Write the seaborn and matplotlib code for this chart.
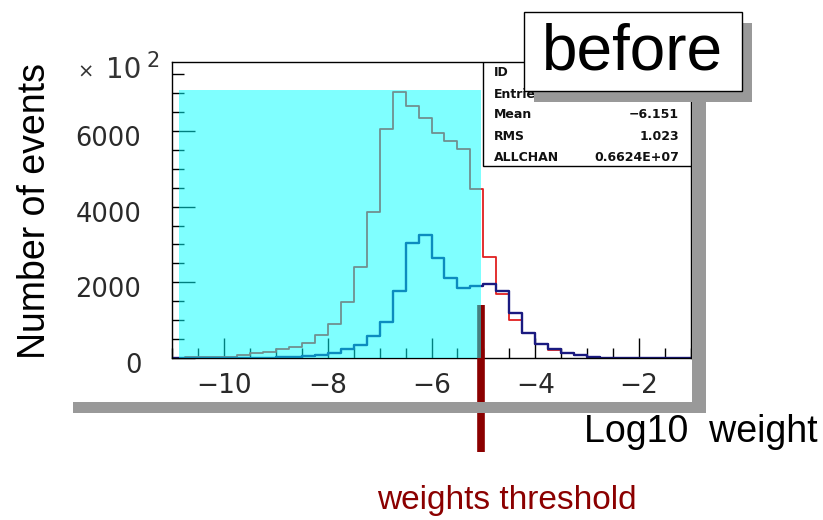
import numpy as np
import pandas as pd
import matplotlib
matplotlib.use("Agg")
import matplotlib.pyplot as plt
import matplotlib.transforms as mtransforms
from matplotlib.patches import Rectangle
from matplotlib.ticker import FixedLocator, MultipleLocator
import seaborn as sns

# Histogram binning of log10(weight): 40 bins of 0.25 from -11 to -1
bin_lo = -11.0
bin_hi = -1.0
bin_width = 0.25

# Events per bin, in units of 10^2
all_events = [0, 20, 20, 20, 20, 90, 140, 170, 230, 300,
              405, 600, 910, 1470, 2410, 3860, 6040, 7020, 6660, 6330,
              5950, 5740, 5530, 4460, 2680, 1690, 1000, 650, 380, 220,
              125, 70, 27, 10, 5, 0, 0, 0, 0, 0]
sel_events = [0, 10, 10, 10, 10, 10, 10, 10, 30, 35,
              45, 85, 133, 239, 336, 592, 944, 1773, 3043, 3246,
              2629, 2117, 1862, 1906, 1967, 1773, 1200, 650, 370, 225,
              130, 70, 27, 10, 5, 0, 0, 0, 0, 0]

threshold = -5.05
x_ticks = [-10, -8, -6, -4, -2]
x_tick_labels = ["\u221210", "\u22128", "\u22126", "\u22124", "\u22122"]
y_ticks = [0, 2000, 4000, 6000]
y_tick_labels = ["0", "2000", "4000", "6000"]
stats_labels = ["ID", "Entries", "Mean", "RMS", "ALLCHAN"]
stats_values = ["", "", "\u22126.151", "1.023", "0.6624E+07"]

sns.set_style("white")
plt.rcParams["font.family"] = ["DejaVu Sans"]

W, H = 823, 520
fig = plt.figure(figsize=(W / 100, H / 100), dpi=100)


def fx(px):
    return px / W


def fy(py):
    return 1 - py / H


ax = fig.add_axes([fx(172), fy(358), fx(691) - fx(172), fy(62) - fy(358)])

centers = bin_lo + (np.arange(len(all_events)) + 0.5) * bin_width
df = pd.DataFrame({"logw": centers, "all": all_events, "sel": sel_events})

sns.histplot(data=df, x="logw", weights="all", binwidth=bin_width,
             binrange=(bin_lo, bin_hi), element="step", fill=False,
             color="#e02020", linewidth=1.3, ax=ax, zorder=2)
sns.histplot(data=df, x="logw", weights="sel", binwidth=bin_width,
             binrange=(bin_lo, bin_hi), element="step", fill=False,
             color="#1a1a80", linewidth=1.7, ax=ax, zorder=2.2)

ax.set_xlim(bin_lo, bin_hi)
ax.set_ylim(0, 7820)
ax.set_xlabel("")
ax.set_ylabel("")

# threshold marker, running below the frame
ax.plot([threshold, threshold], [1394, -2495], color="#8b0000", lw=5.5,
        solid_capstyle="butt", clip_on=False, zorder=3)

# cyan band over the low-weight region
ax.add_patch(Rectangle((-10.87, 0), threshold + 10.87, 7080,
                       facecolor=(0, 1, 1), alpha=0.5, lw=0, zorder=4))

# frame and ticks
for s in ax.spines.values():
    s.set_visible(True)
    s.set_color("black")
    s.set_linewidth(1.0)

ax.xaxis.set_major_locator(FixedLocator(x_ticks))
ax.xaxis.set_minor_locator(MultipleLocator(0.5))
ax.yaxis.set_major_locator(FixedLocator(y_ticks))
ax.yaxis.set_minor_locator(MultipleLocator(500))
ax.set_xticklabels(x_tick_labels)
ax.set_yticklabels(y_tick_labels)
ax.tick_params(axis="x", which="major", direction="in", length=14.5, width=1,
               color="black", bottom=True, top=False, pad=11, labelsize=19,
               labelcolor="#2a2a2a")
ax.tick_params(axis="x", which="minor", direction="in", length=7, width=1,
               color="black", bottom=True, top=False)
ax.tick_params(axis="y", which="major", direction="in", length=16.5, width=1,
               color="black", left=True, right=False, pad=22, labelsize=18.5,
               labelcolor="#2a2a2a")
ax.tick_params(axis="y", which="minor", direction="in", length=8.6, width=1,
               color="black", left=True, right=False)
shift = mtransforms.ScaledTranslation(0, -5 / 100, fig.dpi_scale_trans)
for t in ax.yaxis.get_major_ticks():
    t.label1.set_transform(t.label1.get_transform() + shift)

# statistics box
ax.add_patch(Rectangle((0.6, 0.649), 0.4, 0.351, transform=ax.transAxes,
                       facecolor="white", edgecolor="black", lw=1.0, zorder=5))
rows_y = [0.963, 0.889, 0.821, 0.747, 0.679]
for lab, val, yy in zip(stats_labels, stats_values, rows_y):
    ax.text(0.621, yy, lab, transform=ax.transAxes, ha="left", va="center",
            fontsize=9, fontweight="bold", color="#111111", zorder=6)
    if val:
        ax.text(0.977, yy, val, transform=ax.transAxes, ha="right",
                va="center", fontsize=9, fontweight="bold", color="#111111",
                zorder=6)

# panel shadow
fig.add_artist(Rectangle((fx(692), fy(413)), fx(706) - fx(692), fy(72) - fy(413),
                         transform=fig.transFigure, facecolor="#999999",
                         lw=0, zorder=1))
fig.add_artist(Rectangle((fx(73), fy(413)), fx(706) - fx(73), fy(402) - fy(413),
                         transform=fig.transFigure, facecolor="#999999",
                         lw=0, zorder=1))

# "before" title box with shadow
fig.add_artist(Rectangle((fx(534), fy(102)), fx(742) - fx(524), fy(12) - fy(91),
                         transform=fig.transFigure, facecolor="#999999",
                         lw=0, zorder=7))
fig.add_artist(Rectangle((fx(524), fy(91)), fx(742) - fx(524), fy(12) - fy(91),
                         transform=fig.transFigure, facecolor="white",
                         edgecolor="black", lw=1.0, zorder=8))
fig.text(fx(633), fy(52), "before", ha="center", va="center",
         fontsize=46, family="Liberation Sans", color="black", zorder=9)

# axis titles and exponent
fig.text(fx(35), fy(211), "Number of events", rotation=90, ha="center",
         va="center", fontsize=27, family="Liberation Sans", color="black")
fig.text(fx(701), fy(432), "Log10  weight", ha="center", va="center",
         fontsize=27, family="Liberation Sans", color="black")
fig.text(fx(507), fy(500), "weights threshold", ha="center", va="center",
         fontsize=24, family="Liberation Sans", color="#8b0000")
fig.text(fx(86), fy(72), "\u00d7", ha="center", va="center", fontsize=14,
         color="#333333")
fig.text(fx(124), fy(70), "10", ha="center", va="center", fontsize=20,
         color="#333333")
fig.text(fx(153), fy(61), "2", ha="center", va="center", fontsize=15,
         color="#333333")

fig.savefig("out.png", dpi=100)
